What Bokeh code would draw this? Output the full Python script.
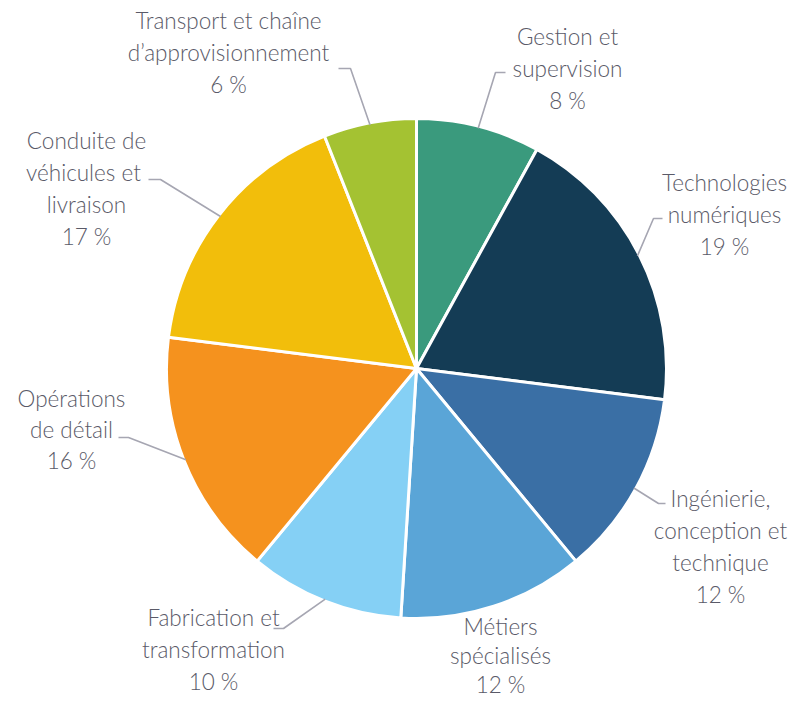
import math
from bokeh.plotting import figure
from bokeh.models import Range1d, ColumnDataSource
from bokeh.core.properties import value
from bokeh.embed import file_html
from bokeh.resources import INLINE

# ---- data ----
categories = [
    "Gestion et supervision",
    "Technologies numériques",
    "Ingénierie, conception et technique",
    "Métiers spécialisés",
    "Fabrication et transformation",
    "Opérations de détail",
    "Conduite de véhicules et livraison",
    "Transport et chaîne d’approvisionnement",
]
shares = [8, 19, 12, 12, 10, 16, 17, 6]
label_lines = [
    ["Gestion et", "supervision", "8 %"],
    ["Technologies", "numériques", "19 %"],
    ["Ingénierie,", "conception et", "technique", "12 %"],
    ["Métiers", "spécialisés", "12 %"],
    ["Fabrication et", "transformation", "10 %"],
    ["Opérations", "de détail", "16 %"],
    ["Conduite de", "véhicules  et", "livraison", "17 %"],
    ["Transport et chaîne", "d’approvisionnement", "6 %"],
]
colors = ["#3A9A7D", "#143C55", "#3A6FA5", "#5AA5D7", "#85D0F5", "#F5921E", "#F2BE0B", "#A4C232"]

# ---- layout (pixel positions in the picture, y measured downward) ----
W, H = 789, 702
CX, CY, R = 416, 368, 250
label_pos = [(567, 36), (724, 182), (720, 498), (500, 626), (213, 617), (71, 398), (86, 140), (228, 20)]
line_gap = [32, 32, 32, 29, 32, 31, 32, 32]
leader_bends = [
    [(495, 72), (505, 72)],
    [(653, 218), (662, 218)],
    [(658, 503), (665, 503)],
    None,
    [(283, 628), (273, 628)],
    [(128, 437), (118, 437)],
    [(160, 179), (148, 179)],
    [(350, 68), (338, 68)],
]
TEXT_COLOR = "#5A5A68"
LEADER_COLOR = "#A6A6B2"
FONT = "'Lato Light', 'Open Sans Light', Lato, sans-serif"


def Y(y_px):
    return H - y_px


p = figure(width=W, height=H, output_backend="svg", toolbar_location=None,
           x_range=Range1d(0, W), y_range=Range1d(0, H),
           min_border=0, outline_line_color=None)
p.axis.visible = False
p.grid.visible = False
p.background_fill_color = "white"

total = sum(shares)
starts, ends, mids = [], [], []
cum = 0
for s in shares:
    a0 = math.pi / 2 - 2 * math.pi * cum / total
    cum += s
    a1 = math.pi / 2 - 2 * math.pi * cum / total
    starts.append(a0)
    ends.append(a1)
    mids.append((a0 + a1) / 2)

src = ColumnDataSource(dict(start=starts, end=ends, color=colors, cat=categories, share=shares))
p.wedge(x=CX, y=Y(CY), radius=R, start_angle="start", end_angle="end", direction="clock",
        fill_color="color", line_color="white", line_width=3, source=src)

# leader lines
for m, bends in zip(mids, leader_bends):
    if not bends:
        continue
    sx = CX + (R - 2) * math.cos(m)
    sy = Y(CY) + (R - 2) * math.sin(m)
    xs = [sx] + [b[0] for b in bends]
    ys = [sy] + [Y(b[1]) for b in bends]
    p.line(xs, ys, line_color=LEADER_COLOR, line_width=1.6)

# labels
tx, ty, tt = [], [], []
for (lx, ly), gap, lines in zip(label_pos, line_gap, label_lines):
    for i, t in enumerate(lines):
        tx.append(lx)
        ty.append(Y(ly + i * gap))
        tt.append(t)
p.text(x=tx, y=ty, text=tt, text_align="center", text_baseline="middle",
       text_font=value(FONT), text_font_size="22.5px", text_color=TEXT_COLOR)

open("out.html", "w").write(file_html(p, INLINE))
